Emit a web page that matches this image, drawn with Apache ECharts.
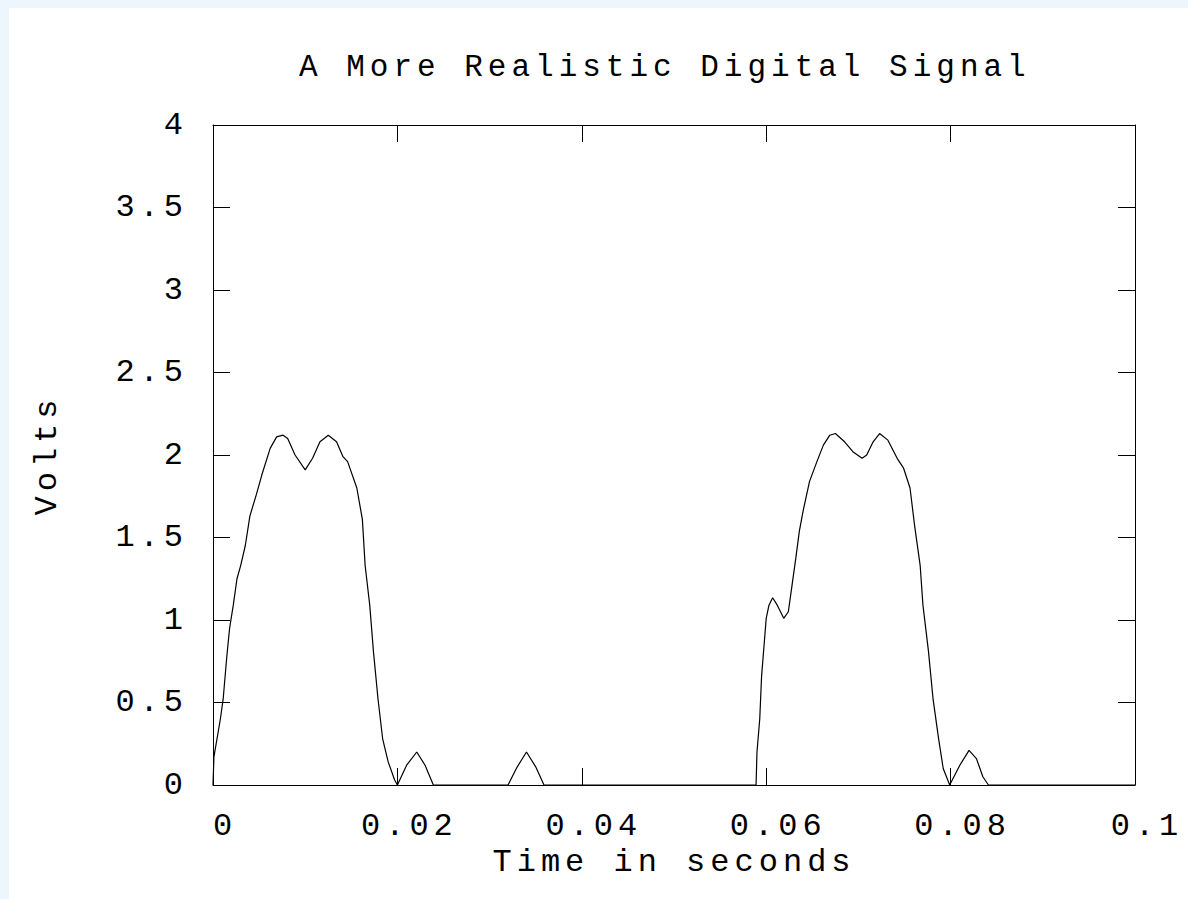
<!DOCTYPE html>
<html>
<head>
<meta charset="utf-8">
<script src="https://cdn.jsdelivr.net/npm/echarts@6/dist/echarts.min.js"></script>
<style>
  html, body { margin: 0; padding: 0; background: #eef6fd; width: 1188px; height: 899px; overflow: hidden; }
  #chart { position: absolute; left: 9px; top: 8px; width: 1179px; height: 891px; background: #ffffff; }
  #chart text { letter-spacing: 5px; }
</style>
</head>
<body>
<div id="chart"></div>
<script>
const titleText = 'A More Realistic Digital Signal';
const xAxisName = 'Time in seconds';
const yAxisName = 'Volts';
const xTickLabels = ['0', '0.02', '0.04', '0.06', '0.08', '0.1'];
const yTickLabels = ['0', '0.5', '1', '1.5', '2', '2.5', '3', '3.5', '4'];

const times = [
  0, 0.0001, 0.0008, 0.0011, 0.0015, 0.0018, 0.0022, 0.0026, 0.0030, 0.0035,
  0.0040, 0.0047, 0.0053, 0.0062, 0.0069, 0.0076, 0.0081, 0.0089, 0.0100, 0.0108,
  0.0116, 0.0125, 0.0134, 0.0141, 0.0146, 0.0156, 0.0162, 0.0165, 0.0170, 0.0174,
  0.0179, 0.0184, 0.0190, 0.0197, 0.0200,
  0.0210, 0.0221, 0.0230, 0.0239,
  0.0320, 0.0330, 0.0340, 0.0350, 0.0359,
  0.0589, 0.0590, 0.0593, 0.0595, 0.0598, 0.0600, 0.0603, 0.0607, 0.0612, 0.0619,
  0.0624, 0.0628, 0.0632, 0.0636, 0.0640, 0.0647, 0.0655, 0.0662, 0.0669, 0.0675,
  0.0685, 0.0694, 0.0704, 0.0709, 0.0716, 0.0723, 0.0732, 0.0742, 0.0749, 0.0756,
  0.0761, 0.0767, 0.0770, 0.0776, 0.0781, 0.0787, 0.0792, 0.0799,
  0.0810, 0.0820, 0.0828, 0.0835, 0.0841,
  0.1000
];
const volts = [
  0, 0.17, 0.40, 0.52, 0.78, 0.95, 1.09, 1.25, 1.33, 1.45,
  1.63, 1.76, 1.88, 2.04, 2.11, 2.12, 2.10, 2.00, 1.91, 1.98,
  2.08, 2.12, 2.08, 1.99, 1.96, 1.80, 1.61, 1.33, 1.09, 0.81,
  0.52, 0.28, 0.14, 0.03, 0,
  0.12, 0.20, 0.12, 0,
  0, 0.11, 0.20, 0.11, 0,
  0, 0.20, 0.40, 0.66, 0.87, 1.01, 1.09, 1.135, 1.09, 1.01,
  1.05, 1.21, 1.37, 1.54, 1.66, 1.84, 1.96, 2.06, 2.12, 2.13,
  2.08, 2.02, 1.98, 2.00, 2.08, 2.13, 2.09, 1.98, 1.92, 1.80,
  1.57, 1.33, 1.09, 0.81, 0.52, 0.28, 0.10, 0,
  0.12, 0.21, 0.16, 0.05, 0,
  0
];

const FONT = '"Liberation Mono", "DejaVu Sans Mono", monospace';
const FS = 32;
const black = '#000000';

const chart = echarts.init(document.getElementById('chart'), null, { renderer: 'svg', width: 1179, height: 891 });

const tickStyle = { show: true, inside: true, length: 17, lineStyle: { color: black, width: 1 } };
const lineStyleAxis = { show: true, onZero: false, lineStyle: { color: black, width: 1 } };

chart.setOption({
  animation: false,
  backgroundColor: '#ffffff',
  title: {
    text: titleText,
    left: 285,
    top: 39,
    textStyle: { fontFamily: FONT, fontSize: 31, fontWeight: 'normal', color: black }
  },
  grid: { left: 204, right: 53, top: 117, bottom: 114, show: false },
  xAxis: [
    {
      type: 'value', min: 0, max: 0.1, interval: 0.02, position: 'bottom',
      axisLine: lineStyleAxis, axisTick: tickStyle, splitLine: { show: false },
      name: xAxisName, nameLocation: 'middle', nameGap: 56,
      nameTextStyle: { fontFamily: FONT, fontSize: FS, color: black },
      axisLabel: {
        margin: 25, fontFamily: FONT, fontSize: FS, color: black,
        padding: [0, 0, 0, 24],
        formatter: v => xTickLabels[Math.round(v / 0.02)]
      }
    },
    {
      type: 'value', min: 0, max: 0.1, interval: 0.02, position: 'top',
      axisLine: lineStyleAxis, axisTick: tickStyle, splitLine: { show: false },
      axisLabel: { show: false }
    }
  ],
  yAxis: [
    {
      type: 'value', min: 0, max: 4, interval: 0.5, position: 'left',
      axisLine: lineStyleAxis, axisTick: tickStyle, splitLine: { show: false },
      name: yAxisName, nameLocation: 'middle', nameGap: 150, nameRotate: 90,
      nameTextStyle: { fontFamily: FONT, fontSize: FS, color: black },
      axisLabel: {
        margin: 25, fontFamily: FONT, fontSize: FS, color: black,
        formatter: v => yTickLabels[Math.round(v / 0.5)]
      }
    },
    {
      type: 'value', min: 0, max: 4, interval: 0.5, position: 'right',
      axisLine: lineStyleAxis, axisTick: tickStyle, splitLine: { show: false },
      axisLabel: { show: false }
    }
  ],
  series: [
    {
      type: 'line',
      xAxisIndex: 0, yAxisIndex: 0,
      data: times.map((t, i) => [t, volts[i]]),
      showSymbol: false,
      symbol: 'none',
      lineStyle: { color: black, width: 1.2 },
      smooth: false
    }
  ]
});
</script>
</body>
</html>
